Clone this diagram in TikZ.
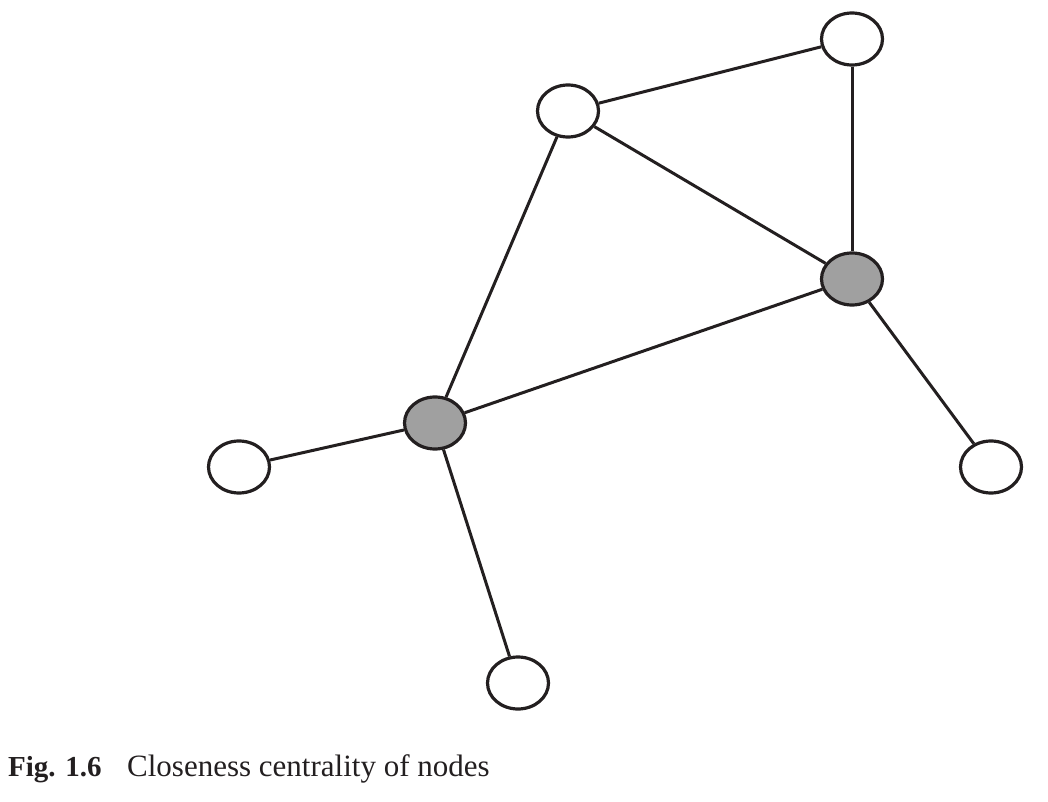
\documentclass[tikz,border=0pt]{standalone}
\usepackage{fontspec}
\setmainfont{Liberation Serif}
\usetikzlibrary{shapes.geometric}
\definecolor{ink}{HTML}{231F20}
\definecolor{hub}{HTML}{A0A0A0}
\tikzset{
  vert/.style={ellipse, draw=ink, line width=3.2pt, fill=white, minimum width=61pt, minimum height=52pt, inner sep=0pt},
  hubvert/.style={vert, fill=hub},
  edge/.style={draw=ink, line width=3pt}
}
\begin{document}
\begin{tikzpicture}[x=1pt,y=-1pt]
\useasboundingbox (0,0) rectangle (1048,802);
\node[vert] (tr) at (852,39) {};
\node[vert] (tm) at (568,111) {};
\node[hubvert] (rg) at (852,279) {};
\node[hubvert] (lg) at (435,423) {};
\node[vert] (fl) at (239,467) {};
\node[vert] (fr) at (991,467) {};
\node[vert] (bt) at (518,683) {};
\draw[edge] (tm) -- (tr);
\draw[edge] (tr) -- (rg);
\draw[edge] (tm) -- (rg);
\draw[edge] (tm) -- (lg);
\draw[edge] (lg) -- (rg);
\draw[edge] (rg) -- (fr);
\draw[edge] (lg) -- (fl);
\draw[edge] (lg) -- (bt);
\node[anchor=base west, inner sep=0pt, text=ink] (figno) at (8,776) {\fontsize{29}{34}\selectfont\textbf{Fig. 1.6}};
\node[anchor=base west, inner sep=0pt, text=ink] (cap) at (127,776) {\fontsize{31}{36}\selectfont Closeness centrality of nodes};
\end{tikzpicture}
\end{document}
